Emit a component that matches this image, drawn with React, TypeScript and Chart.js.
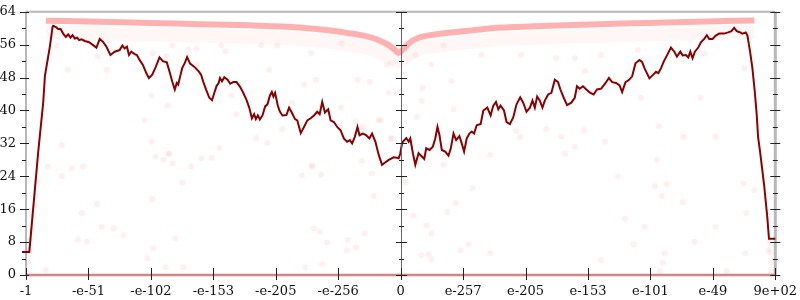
import React, { useEffect, useRef } from 'react';
import { Chart, registerables } from 'chart.js';

Chart.register(...registerables);

// x axis: ordinal float positions, 13 ticks
const xTickValues = [-6, -5, -4, -3, -2, -1, 0, 1, 2, 3, 4, 5, 6];
const xTickLabels = ['-1', '-e-51', '-e-102', '-e-153', '-e-205', '-e-256', '0', 'e-257', 'e-205', 'e-153', 'e-101', 'e-49', '9e+02'];
const yMin = 0;
const yMax = 64;
const yStep = 8;

// main (dark red) series
const lineX = [
  -6.064, -5.947, -5.804, -5.724, -5.697, -5.644, -5.617, -5.574, -5.564, -5.521, -5.484, -5.446, -5.405, -5.361, -5.325,
  -5.287, -5.255, -5.218, -5.181, -5.149, -5.111, -5.058, -4.990, -4.926, -4.872, -4.819, -4.766, -4.712, -4.648, -4.580,
  -4.500, -4.457, -4.420, -4.383, -4.351, -4.313, -4.260, -4.224, -4.181, -4.128, -4.074, -4.032, -3.978, -3.925, -3.862,
  -3.809, -3.745, -3.702, -3.659, -3.617, -3.586, -3.563, -3.531, -3.499, -3.458, -3.420, -3.372, -3.303, -3.234, -3.196,
  -3.159, -3.116, -3.064, -3.021, -2.984, -2.947, -2.915, -2.893, -2.861, -2.824, -2.772, -2.729, -2.681, -2.628, -2.574,
  -2.521, -2.469, -2.425, -2.382, -2.346, -2.319, -2.287, -2.255, -2.213, -2.170, -2.133, -2.095, -2.063, -2.038, -2.011,
  -1.968, -1.936, -1.894, -1.830, -1.787, -1.744, -1.691, -1.655, -1.600, -1.548, -1.495, -1.441, -1.388, -1.336, -1.297,
  -1.256, -1.213, -1.160, -1.122, -1.069, -1.016, -0.962, -0.910, -0.857, -0.814, -0.777, -0.734, -0.691, -0.659, -0.606,
  -0.554, -0.499, -0.458, -0.404, -0.351, -0.298, -0.244, -0.191, -0.112, -0.059, -0.032, -0.005, 0.024, 0.091, 0.128,
  0.155, 0.196, 0.235, 0.287, 0.340, 0.378, 0.410, 0.463, 0.515, 0.554, 0.590, 0.622, 0.659, 0.713, 0.766,
  0.803, 0.846, 0.889, 0.941, 0.978, 1.016, 1.058, 1.101, 1.138, 1.176, 1.218, 1.281, 1.324, 1.388, 1.441,
  1.484, 1.527, 1.564, 1.600, 1.655, 1.696, 1.750, 1.803, 1.856, 1.915, 1.963, 2.015, 2.070, 2.111, 2.149,
  2.186, 2.229, 2.271, 2.309, 2.362, 2.414, 2.469, 2.521, 2.558, 2.612, 2.665, 2.733, 2.788, 2.824, 2.867,
  2.920, 2.973, 3.037, 3.091, 3.144, 3.212, 3.282, 3.335, 3.388, 3.451, 3.506, 3.547, 3.601, 3.654, 3.707,
  3.761, 3.825, 3.866, 3.905, 3.984, 4.037, 4.090, 4.128, 4.170, 4.213, 4.265, 4.329, 4.383, 4.425, 4.479,
  4.516, 4.568, 4.607, 4.639, 4.675, 4.712, 4.766, 4.808, 4.862, 4.904, 4.942, 4.995, 5.047, 5.101, 5.181,
  5.245, 5.298, 5.341, 5.382, 5.421, 5.473, 5.526, 5.553, 5.596, 5.633, 5.670, 5.702, 5.724, 5.756, 5.820,
  5.872, 5.899, 6.0,
];
const lineY = [
  5.6, 5.6, 30.0, 42.0, 48.4, 53.2, 55.6, 60.4, 60.6, 60.3, 59.8, 59.8, 58.7, 57.9, 58.5,
  57.7, 58.3, 57.5, 57.7, 57.1, 57.3, 56.9, 56.6, 55.9, 55.3, 57.4, 56.7, 55.5, 53.5, 54.3,
  54.7, 55.8, 55.1, 55.5, 53.5, 54.3, 53.7, 53.5, 52.3, 51.1, 49.1, 47.9, 48.7, 50.5, 52.9,
  52.0, 51.7, 49.5, 47.1, 45.1, 46.7, 46.3, 48.3, 50.3, 51.5, 53.0, 51.4, 50.6, 49.5, 48.7,
  46.9, 45.1, 43.1, 42.5, 44.3, 46.0, 46.7, 47.9, 47.1, 48.1, 47.5, 46.5, 46.9, 46.9, 45.8,
  44.3, 42.6, 40.7, 38.1, 39.1, 37.9, 38.8, 37.8, 38.8, 41.0, 41.5, 43.6, 44.5, 43.4, 44.3,
  41.2, 39.8, 38.8, 38.9, 40.7, 39.5, 37.9, 37.6, 34.5, 36.0, 37.6, 38.1, 38.8, 39.7, 39.1,
  42.1, 39.5, 40.3, 37.6, 37.2, 36.0, 35.2, 33.2, 32.4, 32.8, 32.0, 33.6, 36.0, 34.0, 34.4,
  34.0, 33.2, 34.4, 32.4, 29.2, 26.8, 27.4, 28.0, 28.6, 28.5, 28.4, 29.6, 32.2, 33.3, 32.4,
  33.2, 29.6, 26.8, 29.6, 28.8, 28.2, 30.8, 30.4, 31.2, 33.2, 36.0, 34.0, 30.4, 30.0, 29.0,
  30.8, 34.4, 32.8, 33.8, 32.0, 30.0, 33.2, 34.4, 34.9, 34.4, 36.4, 36.7, 40.0, 40.7, 38.8,
  41.2, 42.1, 40.3, 41.2, 40.0, 37.2, 36.7, 38.3, 41.5, 43.2, 41.9, 39.7, 40.7, 42.4, 40.7,
  43.4, 42.4, 40.7, 42.4, 43.9, 44.3, 47.5, 46.9, 45.1, 43.1, 41.3, 41.9, 43.1, 45.9, 45.3,
  45.9, 45.1, 44.3, 43.9, 45.1, 45.3, 46.7, 47.9, 46.9, 46.7, 46.1, 44.5, 46.9, 47.4, 48.3,
  51.5, 52.3, 51.8, 50.3, 47.8, 48.6, 49.4, 49.1, 50.3, 51.9, 53.4, 55.3, 54.3, 53.1, 54.3,
  53.4, 53.5, 52.9, 54.3, 52.7, 54.3, 55.3, 56.6, 57.4, 58.3, 57.4, 57.4, 58.2, 58.7, 58.7,
  59.0, 59.3, 60.1, 59.3, 59.1, 58.7, 59.0, 58.3, 54.3, 50.3, 44.8, 39.1, 33.6, 30.0, 22.0,
  14.0, 8.8, 8.8,
];

// dense band of faint points near the top
const bandX = [-5.681, -4.819, -4.021, -3.223, -2.425, -1.628, -1.149, -0.830, -0.590, -0.351, -0.191, -0.096, -0.032, 0.032, 0.128, 0.287, 0.606, 1.085, 1.564, 2.362, 3.159, 3.957, 4.755, 5.665];
const bandY = [61.8, 61.6, 61.3, 61.0, 60.7, 60.2, 59.5, 58.8, 58.2, 57.1, 55.9, 54.8, 54.0, 54.8, 56.3, 57.7, 58.6, 59.4, 60.1, 60.6, 61.0, 61.3, 61.6, 61.9];
const haloY = [59.0, 58.8, 58.5, 58.2, 57.9, 57.4, 56.7, 56.0, 55.4, 54.3, 53.3, 52.5, 52.0, 52.5, 53.7, 55.0, 55.8, 56.6, 57.3, 57.8, 58.2, 58.5, 58.8, 59.1];

// faint points along zero
const floorX = [-6, 6];
const floorY = [0, 0];

// sparse faint points
const dotX = [
  -5.330, -5.425, -5.505, -3.973, -3.989, -3.734, -4.101, -3.989, -3.271, -4.708, -4.851, -5.649, -5.425, -5.266, -5.090,
  -4.867, -5.106, -4.787, -4.596, -4.436, -5.170, -5.026, -3.973, -3.957, -4.053, -3.766, -3.606, -3.925, -3.798, -3.718,
  -3.654, -3.495, -3.351, -3.479, -5.681, -1.436, -1.548, -1.356, -0.941, -0.686, -0.495, -0.223, -0.160, -0.191, 0.239,
  0.495, 0.351, 0.814, 1.292, 0.686, 0.335, 0.846, 0.255, -0.351, -0.957, -0.160, -0.606, -1.420, -1.580, -1.277,
  -0.622, -0.463, -0.431, 0.080, 0.207, 0.878, 0.750, 0.415, 0.495, -1.388, -1.292, -1.181, -0.846, -0.574, -0.718,
  -0.862, -1.532, -1.261, 0.335, 0.447, 0.495, 0.957, 1.085, 1.436, 0.686, 1.436, 1.149, 3.479, 3.590, 3.909,
  3.734, 4.069, 4.260, 4.181, 4.516, 4.101, 5.042, 4.707, 4.229, 4.197, 4.149, 5.489, 5.665, 5.537, 5.521,
  5.218, 3.207, 3.846, 4.133, 4.532, 5.042, 4.803, 3.271, 5.505, 4.867, 3.207, 3.798, 1.931, 2.489, 2.792,
  2.952, 1.851, 2.330, 2.569, 2.936, 2.633, 2.792, 1.915, -3.750, -3.399, -3.654, -3.255, -2.872, -2.808, -2.713,
  -2.633, -2.106, -2.234, -1.979, -1.899, -2.314, -2.138, -2.904, -3.032, -3.191, -3.702, -1.739, -1.420, -0.319, -0.718,
  -0.144, -5.984, -5.968, -5.952, -5.936, -5.920, -5.888, -5.856, -5.840, -5.824, 5.952, 5.936, 5.920, 5.904, 5.888,
];
const dotY = [
  49.9, 31.6, 55.8, 53.9, 43.6, 41.2, 37.6, 32.4, 55.1, 49.9, 53.2, 26.4, 24.0, 25.9, 26.4,
  17.3, 15.1, 11.7, 11.3, 9.6, 8.6, 8.1, 18.5, 6.5, 4.1, 1.9, 8.9, 28.8, 28.0, 29.5,
  27.1, 22.5, 26.4, 1.9, 1.2, 53.9, 46.3, 47.5, 56.3, 47.5, 47.0, 51.1, 51.5, 44.3, 53.5,
  51.1, 45.5, 47.2, 53.5, 55.8, 42.4, 40.3, 38.4, 37.6, 40.7, 33.1, 36.0, 26.4, 24.2, 24.4,
  27.8, 24.7, 19.2, 22.5, 14.4, 17.5, 15.3, 12.0, 10.1, 11.3, 10.5, 7.9, 8.6, 10.1, 6.7,
  6.0, 1.9, 2.6, 4.8, 5.0, 3.8, 6.0, 7.4, 5.3, 26.8, 29.2, 21.1, 24.0, 13.7, 11.7,
  7.4, 21.6, 22.1, 19.2, 17.7, 28.0, 11.7, 8.1, 5.3, 2.9, 1.0, 22.3, 20.6, 15.1, 5.3,
  1.0, 3.6, 43.1, 36.2, 33.6, 33.6, 43.1, 32.4, 50.3, 53.9, 53.5, 54.7, 53.5, 52.7, 52.7,
  49.6, 35.0, 35.5, 33.6, 35.2, 29.5, 31.2, 33.6, 53.2, 54.9, 55.8, 51.1, 55.8, 54.4, 43.6,
  39.1, 49.9, 55.8, 55.8, 35.5, 33.3, 32.1, 30.9, 28.5, 28.3, 29.5, 41.9, 26.6, 37.6, 37.2,
  33.3, 0.7, 3.1, 6.0, 8.4, 10.8, 14.4, 16.8, 19.2, 22.8, 0.7, 3.1, 5.5, 7.9, 6.0,
];

const FONT = { family: '"DejaVu Serif", serif', size: 13 };

const zip = (xs: number[], ys: number[]) => xs.map((x, i) => ({ x, y: ys[i] }));

const decoPlugin = {
  id: 'deco',
  beforeDatasetsDraw(chart: any) {
    const { ctx, chartArea: a } = chart;
    ctx.save();
    ctx.strokeStyle = '#b8b8b8';
    ctx.lineWidth = 2;
    ctx.beginPath();
    ctx.moveTo(a.left, a.top);
    ctx.lineTo(a.right, a.top);
    ctx.moveTo(a.left, a.top);
    ctx.lineTo(a.left, a.bottom);
    ctx.moveTo(a.left, a.bottom);
    ctx.lineTo(a.right, a.bottom);
    ctx.stroke();
    ctx.lineWidth = 3;
    ctx.beginPath();
    ctx.moveTo(a.right, a.top);
    ctx.lineTo(a.right, a.bottom);
    ctx.stroke();
    ctx.restore();
  },
  afterDatasetsDraw(chart: any) {
    const { ctx, chartArea: a } = chart;
    const xs = chart.scales.x;
    const ys = chart.scales.y;
    ctx.save();
    const cx = Math.round(xs.getPixelForValue(0)) + 0.5;
    ctx.strokeStyle = '#666';
    ctx.lineWidth = 1;
    ctx.beginPath();
    ctx.moveTo(cx, a.top);
    ctx.lineTo(cx, a.bottom);
    ctx.stroke();
    ctx.strokeStyle = '#222';
    ctx.beginPath();
    for (let v = yMin; v <= yMax; v += yStep / 2) {
      const major = v % yStep === 0;
      const py = Math.round(ys.getPixelForValue(v)) + 0.5;
      ctx.moveTo(a.left - (major ? 6 : 4), py);
      ctx.lineTo(a.left + (major ? 3 : 0), py);
      ctx.moveTo(cx - (major ? 5.5 : 2.5), py);
      ctx.lineTo(cx + (major ? 5.5 : 2.5), py);
      ctx.moveTo(a.right - (major ? 5 : 2.5), py);
      ctx.lineTo(a.right + (major ? 5 : 2.5), py);
    }
    for (const v of xTickValues) {
      const px = Math.round(xs.getPixelForValue(v)) + 0.5;
      ctx.moveTo(px, a.bottom - 7);
      ctx.lineTo(px, a.bottom + 5);
    }
    ctx.stroke();
    ctx.restore();
  },
};

export default function App() {
  const ref = useRef<HTMLCanvasElement | null>(null);
  useEffect(() => {
    document.body.style.margin = '0';
    const canvas = ref.current;
    if (!canvas) return;
    const chart = new Chart(canvas, {
      type: 'line',
      data: {
        datasets: [
          {
            data: zip(lineX, lineY),
            borderColor: '#8b0000',
            borderWidth: 2,
            pointRadius: 0,
            fill: false,
            tension: 0,
            clip: false,
            order: 0,
          } as any,
          {
            data: zip(dotX, dotY),
            showLine: false,
            pointRadius: 3,
            pointBorderWidth: 0,
            pointBackgroundColor: 'rgba(255,0,0,0.06)',
            borderColor: 'rgba(0,0,0,0)',
            order: 1,
          },
          {
            data: zip(bandX, bandY),
            borderColor: 'rgba(255,40,40,0.36)',
            borderWidth: 6,
            pointRadius: 0,
            cubicInterpolationMode: 'monotone',
            order: 2,
          },
          {
            data: zip(bandX, haloY),
            borderColor: 'rgba(255,0,0,0.035)',
            borderWidth: 14,
            pointRadius: 0,
            cubicInterpolationMode: 'monotone',
            order: 3,
          },
          {
            data: zip(floorX, floorY),
            borderColor: 'rgba(240,50,50,0.35)',
            borderWidth: 3,
            pointRadius: 0,
            clip: false,
            order: 4,
          } as any,
        ],
      },
      options: {
        animation: false,
        responsive: false,
        events: [],
        layout: { padding: { top: 8, right: 22, left: 0, bottom: 0 } },
        plugins: { legend: { display: false }, tooltip: { enabled: false } },
        scales: {
          x: {
            type: 'linear',
            min: -6,
            max: 6,
            afterBuildTicks: (s: any) => {
              s.ticks = xTickValues.map((v) => ({ value: v }));
            },
            afterFit: (s: any) => {
              s.height = 25;
            },
            ticks: {
              autoSkip: false,
              maxRotation: 0,
              padding: 3,
              color: '#111',
              font: FONT,
              callback: (_v: any, i: number) => xTickLabels[i],
            },
            grid: { display: true, drawOnChartArea: false, color: 'rgba(0,0,0,0)', tickLength: 6 },
            border: { display: false },
          },
          y: {
            type: 'linear',
            min: yMin,
            max: yMax,
            afterFit: (s: any) => {
              s.width = 26;
            },
            ticks: { stepSize: yStep, padding: 4, color: '#111', font: FONT },
            grid: { display: true, drawOnChartArea: false, color: 'rgba(0,0,0,0)', tickLength: 6 },
            border: { display: false },
          },
        },
      },
      plugins: [decoPlugin],
    });
    return () => chart.destroy();
  }, []);
  return (
    <div style={{ width: 800, height: 300 }}>
      <canvas ref={ref} width={800} height={300} style={{ display: 'block' }} />
    </div>
  );
}
